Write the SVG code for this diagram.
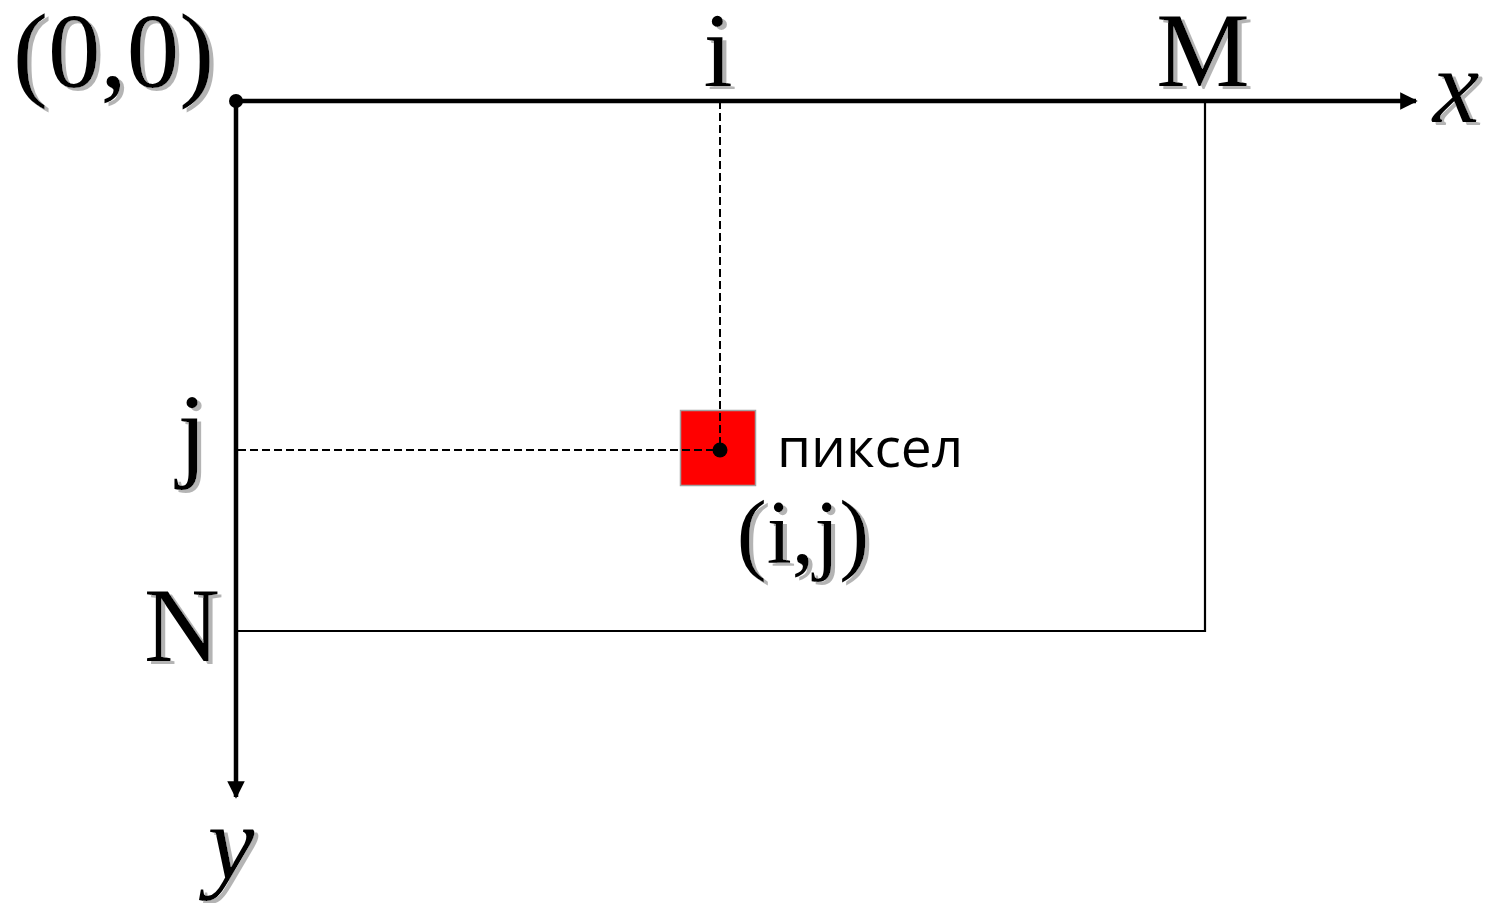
<svg xmlns="http://www.w3.org/2000/svg" width="1496" height="903" viewBox="0 0 1496 903">
  <style>
    .lbl { font-family: "Liberation Serif", "Times New Roman", serif; font-size: 105px; fill: #000; filter: url(#shadow); }
    .it { font-style: italic; }
    .axis { stroke: #000; stroke-width: 4.5; fill: none; }
    .frame { stroke: #000; stroke-width: 2.2; fill: none; }
    .dash { stroke: #000; stroke-width: 2; stroke-dasharray: 8 4; fill: none; }
    .sans { font-family: "Open Sans", "Noto Sans", "DejaVu Sans", sans-serif; font-size: 55px; fill: #000; }
  </style>
  <defs>
    <filter id="shadow" x="-20%" y="-20%" width="140%" height="140%">
      <feFlood flood-color="#b4b4b4" result="c"/>
      <feComposite in="c" in2="SourceAlpha" operator="in" result="s"/>
      <feOffset in="s" dx="4" dy="3" result="o"/>
      <feMerge>
        <feMergeNode in="o"/>
        <feMergeNode in="SourceGraphic"/>
      </feMerge>
    </filter>
    <marker id="arr" viewBox="0 0 10 10" refX="9" refY="5" markerWidth="3.9" markerHeight="3.9" markerUnits="strokeWidth" orient="auto">
      <path d="M0,0 L10,5 L0,10 z" fill="#000"/>
    </marker>
  </defs>
  <rect width="1496" height="903" fill="#fff"/>

  <g id="frame">
    <polyline class="frame" points="236,101 1205,101 1205,631 236,631"/>
  </g>

  <g id="pixel">
    <rect x="680.5" y="410.5" width="75" height="75" fill="#ff0000" stroke="#a0a0a0" stroke-width="1.5"/>
  </g>

  <g id="connectors">
    <line class="dash" x1="720" y1="101" x2="720" y2="450"/>
    <line class="dash" x1="238" y1="450" x2="720" y2="450"/>
    <line id="x-axis" class="axis" x1="236" y1="101" x2="1416" y2="101" marker-end="url(#arr)"/>
    <line id="y-axis" class="axis" x1="236" y1="101" x2="236" y2="797" marker-end="url(#arr)"/>
  </g>

  <g id="origin">
    <circle cx="236" cy="101" r="7" fill="#000"/>
    <text class="lbl" x="13" y="87">(0,0)</text>
  </g>

  <g id="label-i">
    <text class="lbl" x="718" y="86" text-anchor="middle">i</text>
  </g>

  <g id="label-M">
    <text class="lbl" x="1203" y="86" text-anchor="middle">M</text>
  </g>

  <g id="label-x">
    <text class="lbl it" x="1456" y="122" text-anchor="middle">x</text>
  </g>

  <g id="label-y">
    <text class="lbl it" x="231" y="878" text-anchor="middle">y</text>
  </g>

  <g id="label-j">
    <text class="lbl" x="192" y="467" text-anchor="middle">j</text>
  </g>

  <g id="label-N">
    <text class="lbl" x="182" y="661" text-anchor="middle">N</text>
  </g>

  <g id="pixel-labels">
    <circle cx="720" cy="450" r="7.5" fill="#000"/>
    <text class="sans" x="777" y="467">пиксел</text>
    <text class="lbl" x="803" y="563" text-anchor="middle" style="font-size:90px">(i,j)</text>
  </g>
</svg>
